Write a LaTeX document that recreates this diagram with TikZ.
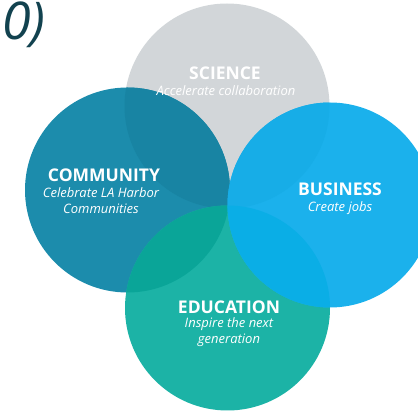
\documentclass[tikz,border=0pt]{standalone}
\usepackage{fontspec}
\setmainfont{Open Sans}
\definecolor{scicol}{HTML}{D2D6D9}
\definecolor{comcol}{HTML}{1C8CAC}
\definecolor{buscol}{HTML}{1BB1EC}
\definecolor{educol}{HTML}{1CB3A6}
\definecolor{comsci}{HTML}{1884A3}
\definecolor{bussci}{HTML}{17ADE7}
\definecolor{educom}{HTML}{0AA598}
\definecolor{busedu}{HTML}{0AAEE6}
\definecolor{darkteal}{HTML}{12424F}
\tikzset{
  ttl/.style={text=white, font=\fontsize{17.5}{20}\selectfont\bfseries, inner sep=0pt},
  sub/.style={text=white, font=\fontsize{13}{16}\selectfont\itshape, inner sep=0pt, align=center},
}
\begin{document}
\begin{tikzpicture}[x=1pt,y=1pt]
\useasboundingbox (0,0) rectangle (418,412);
\clip (0,0) rectangle (418,412);
\def\R{102.5}
\coordinate (S) at (227,306);
\coordinate (C) at (127.5,222);
\coordinate (B) at (330,207);
\coordinate (E) at (227.5,104);
\fill[scicol] (S) circle (\R);
\fill[comcol] (C) circle (\R);
\begin{scope}\clip (S) circle (\R); \fill[comsci] (C) circle (\R);\end{scope}
\fill[educol] (E) circle (\R);
\begin{scope}\clip (C) circle (\R); \fill[educom] (E) circle (\R);\end{scope}
\fill[buscol] (B) circle (\R);
\begin{scope}\clip (S) circle (\R); \fill[bussci] (B) circle (\R);\end{scope}
\begin{scope}\clip (E) circle (\R); \fill[busedu] (B) circle (\R);\end{scope}
% texts
\node[ttl] (scit) at (225,339) {SCIENCE};
\node[sub] (scis) at (226,321) {Accelerate collaboration};
\node[ttl] (comt) at (104,236.5) {COMMUNITY};
\node[sub] (coms) at (101,211) {Celebrate LA Harbor\\Communities};
\node[ttl] (bust) at (340,223) {BUSINESS};
\node[sub] (buss) at (340,204) {Create jobs};
\node[ttl] (edut) at (229,105) {EDUCATION};
\node[sub] (edus) at (229,80) {Inspire the next\\generation};
\node[anchor=north west, inner sep=0pt, text=darkteal, font=\fontsize{52}{52}\selectfont\itshape] (yr) at (2,410) {0)};
\end{tikzpicture}
\end{document}
